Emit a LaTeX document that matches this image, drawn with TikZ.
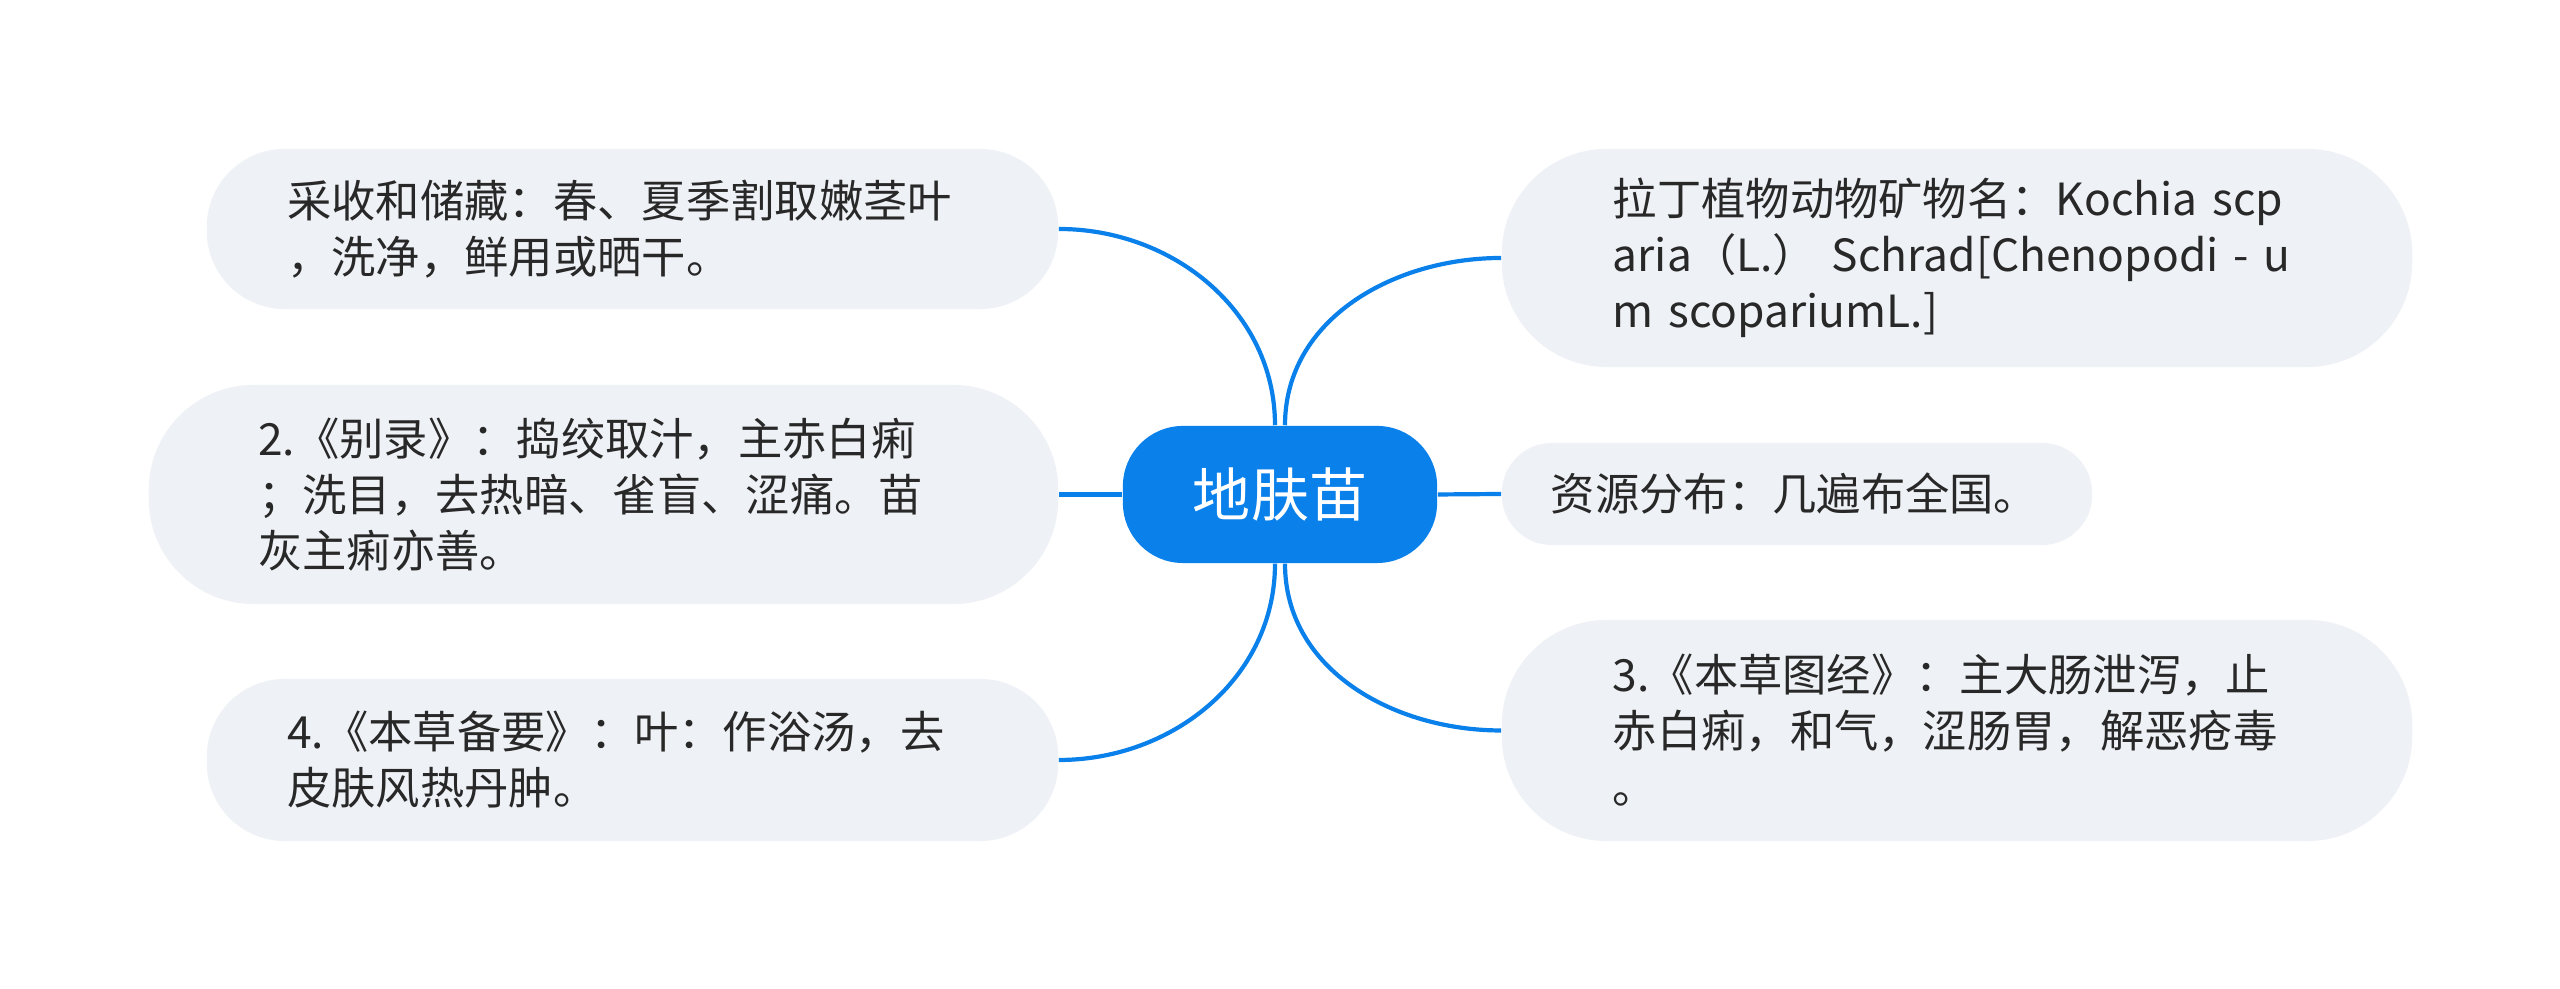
\documentclass[tikz,border=0pt]{standalone}
\usepackage{fontspec}
\setmainfont{Noto Sans CJK SC}
\definecolor{blau}{RGB}{10,128,234}
\definecolor{grau}{RGB}{238,241,245}
\definecolor{tinte}{RGB}{40,40,40}
\begin{document}
\begin{tikzpicture}[x=0.01cm,y=0.01cm,
		ast/.style={draw=blau,line width=0.042cm},
		blatt/.style={fill=grau,text=tinte,align=left,inner sep=0pt,text width=6.9cm,font=\fontsize{12.6pt}{15.9pt}\selectfont},
		kern/.style={fill=blau,text=white,rounded corners=0.6cm,minimum width=3.14cm,minimum height=1.37cm,inner sep=0pt,font=\fontsize{16.5pt}{20pt}\selectfont}]
	\path[fill=white,use as bounding box] (0,0) rectangle (2560,989);
	\node[kern] (difumiao) at (1280,494.5) {地肤苗};
	% linke Seite
	\node[blatt,minimum width=8.51cm,minimum height=1.6cm,rounded corners=0.78cm] (caishou) at (632.5,760) {采收和储藏：春、夏季割取嫩茎叶\\，洗净，鲜用或晒干。};
	\node[blatt,minimum width=9.09cm,minimum height=2.19cm,rounded corners=1.05cm] (bielu) at (603.5,494.5) {2.《别录》：捣绞取汁，主赤白痢\\；洗目，去热暗、雀盲、涩痛。苗\\灰主痢亦善。};
	\node[blatt,minimum width=8.51cm,minimum height=1.62cm,rounded corners=0.78cm] (beiyao) at (632.5,229) {4.《本草备要》：叶：作浴汤，去\\皮肤风热丹肿。};
	% rechte Seite
	\node[blatt,text width=6.88cm,minimum width=9.1cm,minimum height=2.18cm,rounded corners=1.05cm] (lading) at (1957,731) {拉丁植物动物矿物名：Kochia scp\\aria（L.） Schrad[Chenopodi - u\\m scopariumL.]};
	\node[blatt,text width=4.92cm,minimum width=5.9cm,minimum height=1.02cm,rounded corners=0.5cm] (ziyuan) at (1797,495) {资源分布：几遍布全国。};
	\node[blatt,text width=6.88cm,minimum width=9.1cm,minimum height=2.21cm,rounded corners=1.05cm] (tujing) at (1957,258.5) {3.《本草图经》：主大肠泄泻，止\\赤白痢，和气，涩肠胃，解恶疮毒\\。};
	% Verbindungen
	\draw[ast] ([xshift=-0.05cm]difumiao.north) to[out=90,in=0] (caishou.east);
	\draw[ast] (difumiao.west) -- (bielu.east);
	\draw[ast] ([xshift=-0.05cm]difumiao.south) to[out=-90,in=0] (beiyao.east);
	\draw[ast] ([xshift=0.05cm]difumiao.north) to[out=90,in=180] (lading.west);
	\draw[ast] (difumiao.east) -- (ziyuan.west);
	\draw[ast] ([xshift=0.05cm]difumiao.south) to[out=-90,in=180] (tujing.west);
\end{tikzpicture}
\end{document}
